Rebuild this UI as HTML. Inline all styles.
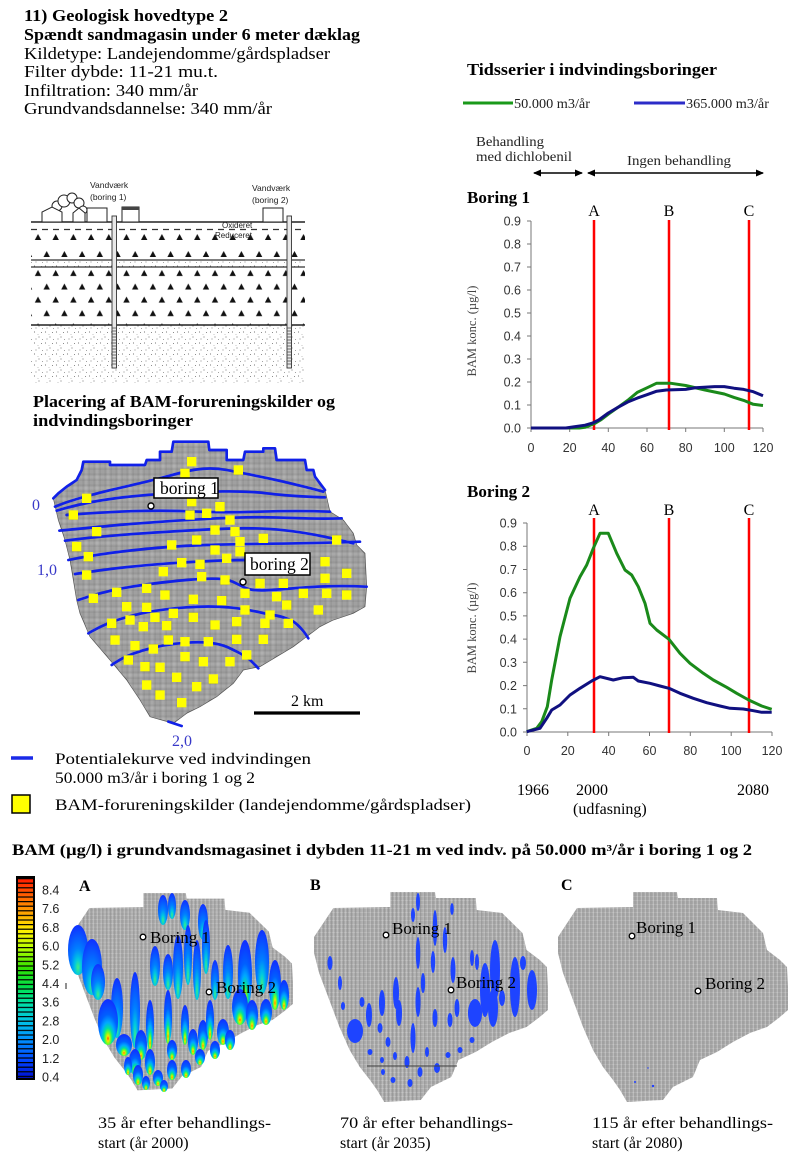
<!DOCTYPE html>
<html><head><meta charset="utf-8"><style>
html,body{margin:0;padding:0;background:#fff;}
svg{display:block;}
.s{font-family:"Liberation Serif",serif;}
.a{font-family:"Liberation Sans",sans-serif;}
</style></head><body>
<svg width="800" height="1163" viewBox="0 0 800 1163" xmlns="http://www.w3.org/2000/svg">
<defs>
<pattern id="gTop" patternUnits="userSpaceOnUse" width="3.3" height="3.3">
<rect width="3.3" height="3.3" fill="#c8c8c8"/>
<path d="M0 0H3.3M0 0V3.3" stroke="#1a1a1a" stroke-width="0.85"/>
</pattern>
<pattern id="gBot" patternUnits="userSpaceOnUse" width="4" height="4">
<rect width="4" height="4" fill="#a8a8a8"/>
<path d="M0 0H4M0 0V4" stroke="#e2e2e2" stroke-width="0.6"/>
<path d="M2 0V4" stroke="#8c8c8c" stroke-width="0.5"/>
</pattern>
<pattern id="tri1" patternUnits="userSpaceOnUse" x="29" y="229" width="17.7" height="34">
<path d="M5.8 11L12.2 11L9 5Z M-3.2 28L3.2 28L0 22Z M14.5 28L20.9 28L17.7 22Z" fill="#111"/>
</pattern>
<pattern id="tri2" patternUnits="userSpaceOnUse" x="29" y="267" width="17.7" height="26.6">
<path d="M5.8 9L12.2 9L9 3Z M-3.2 22.5L3.2 22.5L0 16.5Z M14.5 22.5L20.9 22.5L17.7 16.5Z" fill="#111"/>
</pattern>
<pattern id="sand" patternUnits="userSpaceOnUse" width="11" height="11">
<circle cx="1.5" cy="2" r="0.55" fill="#555"/><circle cx="6" cy="7" r="0.55" fill="#555"/>
<circle cx="8.5" cy="2.5" r="0.5" fill="#666"/><circle cx="3" cy="9" r="0.5" fill="#666"/>
<circle cx="9.5" cy="9.5" r="0.45" fill="#777"/><circle cx="5" cy="4.5" r="0.4" fill="#777"/>
</pattern>
<pattern id="cbl" patternUnits="userSpaceOnUse" x="0" y="878" width="10" height="4.6">
<rect width="10" height="1.2" fill="#000"/>
</pattern>
<linearGradient id="cbg" x1="0" y1="0" x2="0" y2="1">
<stop offset="0" stop-color="#ff1800"/><stop offset="0.08" stop-color="#ff5a00"/>
<stop offset="0.17" stop-color="#ffa000"/><stop offset="0.26" stop-color="#ffee00"/>
<stop offset="0.35" stop-color="#b8ff00"/><stop offset="0.45" stop-color="#30e000"/>
<stop offset="0.55" stop-color="#00e050"/><stop offset="0.63" stop-color="#00e0a8"/>
<stop offset="0.72" stop-color="#00c0e8"/><stop offset="0.82" stop-color="#0088ff"/>
<stop offset="0.92" stop-color="#0040ff"/><stop offset="1" stop-color="#0010d0"/>
</linearGradient>
<radialGradient id="pl" cx="0.5" cy="0.82" r="0.8" fx="0.5" fy="0.86">
<stop offset="0" stop-color="#ff3000"/><stop offset="0.07" stop-color="#ffe000"/>
<stop offset="0.16" stop-color="#70ff20"/><stop offset="0.27" stop-color="#00e0a0"/>
<stop offset="0.42" stop-color="#00a8ff"/><stop offset="0.62" stop-color="#0060ff"/>
<stop offset="1" stop-color="#1030ff"/>
</radialGradient>
<radialGradient id="pl2" cx="0.5" cy="0.8" r="0.8" fx="0.5" fy="0.85">
<stop offset="0" stop-color="#40f080"/><stop offset="0.2" stop-color="#00c8e0"/>
<stop offset="0.45" stop-color="#0080ff"/><stop offset="1" stop-color="#1030ff"/>
</radialGradient>
<path id="mshape" d="M1,45 L20,16 L76,15 L76,0 L120,0 L121,6 L160,6 L161,18 L186,21 L206,41 L210,58 L223,68 L230,75 L231,95 L231,118 L223,125 L210,135 L193,141 L176,150 L160,160 L143,168 L136,185 L116,195 L106,208 L70,210 L63,198 L56,188 L46,175 L36,158 L26,135 L16,108 L6,81 L1,61 Z"/>
<marker id="ah" markerWidth="8" markerHeight="8" refX="7" refY="4" orient="auto-start-reverse" markerUnits="userSpaceOnUse">
<path d="M0,0.5 L8,4 L0,7.5 Z" fill="#000"/>
</marker>
</defs>

<rect width="800" height="1163" fill="#fff"/>

<!-- Header text -->
<g class="s" fill="#000" font-size="16.5">
<text x="24" y="21" font-weight="bold" textLength="204" lengthAdjust="spacingAndGlyphs">11) Geologisk hovedtype 2</text>
<text x="24" y="40" font-weight="bold" textLength="336" lengthAdjust="spacingAndGlyphs">Spændt sandmagasin under 6 meter dæklag</text>
<text x="24" y="59" textLength="306" lengthAdjust="spacingAndGlyphs">Kildetype: Landejendomme/gårdspladser</text>
<text x="24" y="77" textLength="194" lengthAdjust="spacingAndGlyphs">Filter dybde: 11-21 mu.t.</text>
<text x="24" y="96" textLength="174" lengthAdjust="spacingAndGlyphs">Infiltration: 340 mm/år</text>
<text x="24" y="114" textLength="248" lengthAdjust="spacingAndGlyphs">Grundvandsdannelse: 340 mm/år</text>
</g>

<!-- Cross section -->
<g>
<rect x="31" y="229" width="274" height="31" fill="url(#tri1)"/>
<rect x="31" y="267" width="274" height="58" fill="url(#tri2)"/>
<rect x="31" y="260" width="274" height="7" fill="url(#sand)"/>
<rect x="31" y="325" width="274" height="58" fill="url(#sand)"/>
<path d="M31 222H305" stroke="#222" stroke-width="1.6"/>
<path d="M31 229.5H305" stroke="#333" stroke-width="1.2" stroke-dasharray="6,5"/>
<path d="M31 260H305M31 267H305" stroke="#333" stroke-width="1.3"/>
<path d="M31 325H305" stroke="#222" stroke-width="1.6"/>
<g fill="#fff" stroke="#222" stroke-width="1">
<circle cx="57" cy="206" r="5"/><circle cx="64" cy="201" r="6"/><circle cx="72" cy="198" r="5"/><circle cx="79" cy="203" r="5"/><circle cx="83" cy="210" r="4"/>
<path d="M42 222V212L52 207L62 212V222Z"/>
<path d="M73 222V213L79 208L85 213V222Z"/>
<rect x="87" y="208" width="20" height="14"/>
<rect x="122" y="207" width="17" height="15"/>
<rect x="263" y="208" width="20" height="14"/>
</g>
<rect x="122" y="207" width="17" height="3" fill="#444"/>
<rect x="112" y="216" width="4.5" height="152" fill="#e8e8e8" stroke="#333" stroke-width="0.9"/>
<rect x="287" y="216" width="4.5" height="152" fill="#e8e8e8" stroke="#333" stroke-width="0.9"/>
<path d="M112 328h4.5M112 331h4.5M112 334h4.5M112 337h4.5M112 340h4.5M112 343h4.5M112 346h4.5M112 349h4.5M112 352h4.5M112 355h4.5M112 358h4.5M112 361h4.5M112 364h4.5M287 328h4.5M287 331h4.5M287 334h4.5M287 337h4.5M287 340h4.5M287 343h4.5M287 346h4.5M287 349h4.5M287 352h4.5M287 355h4.5M287 358h4.5M287 361h4.5M287 364h4.5" stroke="#444" stroke-width="0.7"/>
<g class="a" font-size="8.5" fill="#222">
<text x="90" y="188">Vandværk</text><text x="90" y="200">(boring 1)</text>
<text x="252" y="191">Vandværk</text><text x="252" y="203">(boring 2)</text>
<text x="222" y="228" font-size="8">Oxideret</text><text x="215" y="238" font-size="8">Reduceret</text>
</g>
</g>

<!-- Placering title -->
<g class="s" font-weight="bold" font-size="16.5" fill="#000">
<text x="33" y="407" textLength="302" lengthAdjust="spacingAndGlyphs">Placering af BAM-forureningskilder og</text>
<text x="33" y="426" textLength="160" lengthAdjust="spacingAndGlyphs">indvindingsboringer</text>
</g>

<!-- Top map -->
<g transform="translate(0,380) scale(0.33333)">
<path d="M160,355 L175,340 L200,320 L230,300 L245,270 L250,245 L330,245 L330,255 L435,255 L440,240 L480,240 L480,215 L515,215 L520,185 L625,185 L628,210 L680,210 L680,240 L730,240 L735,215 L790,215 L790,205 L825,205 L830,240 L915,240 L920,270 L940,270 L945,290 L975,330 L990,395 L1030,420 L1060,460 L1070,495 L1095,520 L1100,620 L1095,680 L1060,700 L1000,720 L960,740 L920,770 L880,800 L830,830 L780,860 L730,870 L700,910 L650,950 L600,980 L560,1000 L520,1030 L450,1010 L420,960 L380,900 L330,840 L270,770 L240,700 L230,660 L220,600 L210,540 L195,480 L175,420 Z" fill="url(#gTop)" stroke="#555" stroke-width="2"/>
<g fill="none" stroke="#1020e8" stroke-width="8" stroke-linejoin="round" stroke-linecap="round">
<path d="M160,355 L175,340 L200,320 L230,300 L245,270 L250,245 L330,245 L330,255 L435,255 L440,240 L480,240 L480,215 L515,215 L520,185 L625,185 L628,210 L680,210 L680,240 L730,240 L735,215 L790,215 L790,205 L825,205 L830,240 L915,240 L920,270 L940,270 L945,290 L975,330"/>
<path d="M165,380 C250,345 380,320 460,300 S600,255 680,270 S880,310 970,335"/>
<path d="M170,392 C290,355 420,345 520,340 S720,330 800,340 S930,350 975,352"/>
<path d="M200,405 C330,395 450,388 600,395 S800,388 990,395"/>
<path d="M178,452 C300,440 450,425 650,415 S880,420 1025,415"/>
<path d="M195,482 C320,465 500,455 650,447 S900,450 1060,490"/>
<path d="M205,540 C330,515 480,500 620,495 S900,492 1080,485"/>
<path d="M225,582 C350,562 500,548 650,542 S800,545 880,550"/>
<path d="M235,660 C320,630 420,612 560,600 S690,605 740,625 S900,610 1100,620"/>
<path d="M265,760 C330,720 420,692 560,682 S760,695 820,705 S900,735 925,775"/>
<path d="M335,855 C380,822 460,795 560,788 S690,805 720,820 S760,850 775,865"/>
<path d="M505,1025 L545,1038"/>
</g>
<g fill="#ffff00">
<rect x="561" y="231" width="28" height="28"/><rect x="701" y="256" width="28" height="28"/><rect x="541" y="266" width="28" height="28"/>
<rect x="246" y="341" width="28" height="28"/><rect x="561" y="351" width="28" height="28"/><rect x="646" y="366" width="28" height="28"/>
<rect x="206" y="391" width="28" height="28"/><rect x="556" y="391" width="28" height="28"/><rect x="606" y="386" width="28" height="28"/>
<rect x="676" y="406" width="28" height="28"/><rect x="276" y="441" width="28" height="28"/><rect x="631" y="436" width="28" height="28"/>
<rect x="691" y="441" width="28" height="28"/><rect x="776" y="461" width="28" height="28"/><rect x="576" y="466" width="28" height="28"/>
<rect x="706" y="471" width="28" height="28"/><rect x="996" y="466" width="28" height="28"/><rect x="501" y="481" width="28" height="28"/>
<rect x="216" y="486" width="28" height="28"/><rect x="631" y="496" width="28" height="28"/><rect x="706" y="501" width="28" height="28"/>
<rect x="251" y="516" width="28" height="28"/><rect x="666" y="521" width="28" height="28"/><rect x="531" y="534" width="28" height="28"/>
<rect x="586" y="539" width="28" height="28"/><rect x="961" y="531" width="28" height="28"/><rect x="476" y="561" width="28" height="28"/>
<rect x="591" y="576" width="28" height="28"/><rect x="1026" y="566" width="28" height="28"/><rect x="246" y="571" width="28" height="28"/>
<rect x="961" y="581" width="28" height="28"/><rect x="661" y="586" width="28" height="28"/><rect x="766" y="596" width="28" height="28"/>
<rect x="836" y="596" width="28" height="28"/><rect x="426" y="611" width="28" height="28"/><rect x="336" y="623" width="28" height="28"/>
<rect x="896" y="626" width="28" height="28"/><rect x="966" y="626" width="28" height="28"/><rect x="1026" y="631" width="28" height="28"/>
<rect x="266" y="641" width="28" height="28"/><rect x="481" y="631" width="28" height="28"/><rect x="566" y="644" width="28" height="28"/>
<rect x="651" y="648" width="28" height="28"/><rect x="721" y="626" width="28" height="28"/><rect x="816" y="636" width="28" height="28"/>
<rect x="846" y="661" width="28" height="28"/><rect x="366" y="666" width="28" height="28"/><rect x="426" y="668" width="28" height="28"/>
<rect x="721" y="676" width="28" height="28"/><rect x="941" y="676" width="28" height="28"/><rect x="506" y="686" width="28" height="28"/>
<rect x="451" y="698" width="28" height="28"/><rect x="566" y="698" width="28" height="28"/><rect x="376" y="706" width="28" height="28"/>
<rect x="796" y="691" width="28" height="28"/><rect x="321" y="716" width="28" height="28"/><rect x="486" y="723" width="28" height="28"/>
<rect x="416" y="726" width="28" height="28"/><rect x="631" y="721" width="28" height="28"/><rect x="696" y="711" width="28" height="28"/>
<rect x="781" y="716" width="28" height="28"/><rect x="851" y="716" width="28" height="28"/><rect x="331" y="766" width="28" height="28"/>
<rect x="491" y="766" width="28" height="28"/><rect x="541" y="771" width="28" height="28"/><rect x="611" y="771" width="28" height="28"/>
<rect x="696" y="764" width="28" height="28"/><rect x="776" y="764" width="28" height="28"/><rect x="391" y="783" width="28" height="28"/>
<rect x="446" y="793" width="28" height="28"/><rect x="371" y="826" width="28" height="28"/><rect x="541" y="816" width="28" height="28"/>
<rect x="726" y="811" width="28" height="28"/><rect x="596" y="831" width="28" height="28"/><rect x="676" y="831" width="28" height="28"/>
<rect x="421" y="846" width="28" height="28"/><rect x="466" y="848" width="28" height="28"/><rect x="516" y="878" width="28" height="28"/>
<rect x="626" y="883" width="28" height="28"/><rect x="426" y="901" width="28" height="28"/><rect x="576" y="906" width="28" height="28"/>
<rect x="466" y="931" width="28" height="28"/><rect x="531" y="954" width="28" height="28"/>
</g>
</g>
<rect x="154" y="478" width="64" height="20" fill="#fff" stroke="#000" stroke-width="1.5"/>
<text x="160" y="494" class="s" font-size="17.5" fill="#000">boring 1</text>
<circle cx="151" cy="506" r="3" fill="#fff" stroke="#000" stroke-width="1.4"/>
<rect x="245" y="553" width="65" height="22" fill="#fff" stroke="#000" stroke-width="1.5"/>
<text x="250" y="570" class="s" font-size="17.5" fill="#000">boring 2</text>
<circle cx="243" cy="582" r="3" fill="#fff" stroke="#000" stroke-width="1.4"/>
<g class="s" font-size="16" fill="#3838c8">
<text x="32" y="510">0</text><text x="37" y="575">1,0</text><text x="172" y="746">2,0</text>
</g>
<path d="M254 713H360" stroke="#000" stroke-width="3.2"/>
<text x="291" y="706" class="s" font-size="16" fill="#000">2 km</text>

<!-- Legend -->
<path d="M11 758H33" stroke="#1a2ae8" stroke-width="3.5"/>
<g class="s" font-size="16" fill="#000">
<text x="55" y="764" textLength="256" lengthAdjust="spacingAndGlyphs">Potentialekurve ved indvindingen</text>
<text x="55" y="783" textLength="200" lengthAdjust="spacingAndGlyphs">50.000 m3/år i boring 1 og 2</text>
<text x="55" y="810" textLength="416" lengthAdjust="spacingAndGlyphs">BAM-forureningskilder (landejendomme/gårdspladser)</text>
</g>
<rect x="12" y="795" width="18" height="18" fill="#ffff00" stroke="#000" stroke-width="1.5"/>

<!-- Right top -->
<text x="467" y="75" class="s" font-weight="bold" font-size="16.5" textLength="250" lengthAdjust="spacingAndGlyphs">Tidsserier i indvindingsboringer</text>
<path d="M463 103H513" stroke="#1a991a" stroke-width="3"/>
<path d="M634 103H685" stroke="#2c2cc8" stroke-width="3"/>
<g class="s" font-size="13.5" fill="#222">
<text x="514" y="108" textLength="76" lengthAdjust="spacingAndGlyphs">50.000 m3/år</text>
<text x="686" y="108" textLength="83" lengthAdjust="spacingAndGlyphs">365.000 m3/år</text>
<text x="476" y="146" font-size="14" textLength="68" lengthAdjust="spacingAndGlyphs">Behandling</text>
<text x="476" y="161" font-size="14" textLength="96" lengthAdjust="spacingAndGlyphs">med dichlobenil</text>
<text x="627" y="165" font-size="14" textLength="104" lengthAdjust="spacingAndGlyphs">Ingen behandling</text>
</g>
<path d="M534 173H582" stroke="#000" stroke-width="1.6" marker-start="url(#ah)" marker-end="url(#ah)"/>
<path d="M588 173H763" stroke="#000" stroke-width="1.6" marker-start="url(#ah)" marker-end="url(#ah)"/>

<!-- Chart 1 -->
<text x="467" y="203" class="s" font-weight="bold" font-size="17" textLength="63" lengthAdjust="spacingAndGlyphs">Boring 1</text>
<g class="s" font-size="16" fill="#000" text-anchor="middle">
<text x="594" y="216">A</text><text x="669" y="216">B</text><text x="749" y="216">C</text>
</g>
<path d="M531 221V428H763M527 221H531M527 244H531M527 267H531M527 290H531M527 313H531M527 336H531M527 359H531M527 382H531M527 405H531M527 428H531M531 428V432M569.7 428V432M608.3 428V432M647 428V432M685.7 428V432M724.3 428V432M763 428V432" stroke="#777" stroke-width="1" fill="none"/>
<g class="a" font-size="12.5" fill="#333" text-anchor="end">
<text x="521" y="225.5">0.9</text><text x="521" y="248.5">0.8</text><text x="521" y="271.5">0.7</text><text x="521" y="294.5">0.6</text><text x="521" y="317.5">0.5</text><text x="521" y="340.5">0.4</text><text x="521" y="363.5">0.3</text><text x="521" y="386.5">0.2</text><text x="521" y="409.5">0.1</text><text x="521" y="432.5">0.0</text>
</g>
<g class="a" font-size="12.5" fill="#333" text-anchor="middle">
<text x="531" y="452">0</text><text x="569.7" y="452">20</text><text x="608.3" y="452">40</text><text x="647" y="452">60</text><text x="685.7" y="452">80</text><text x="724.3" y="452">100</text><text x="763" y="452">120</text>
</g>
<text transform="translate(476,331) rotate(-90)" class="s" font-size="12.5" fill="#444" text-anchor="middle">BAM konc. (µg/l)</text>
<path d="M594 220V430M669 220V430M749 220V430" stroke="#ff0000" stroke-width="2.5"/>
<polyline fill="none" stroke="#1a8a1a" stroke-width="3" stroke-linejoin="round" points="531,428 579.3,428 585.1,427.3 589,425.7 594.8,423.4 600.6,420 608.3,414.2 618,407.3 627.7,400.4 637.3,392.4 647,387.8 656.7,383.2 670.2,383.2 685.7,385.5 705,390 724.3,394 734,397.4 743.7,400.4 753.3,404.3 763,405.5"/>
<polyline fill="none" stroke="#101080" stroke-width="3" stroke-linejoin="round" points="531,428 565.8,428 573.5,426.9 585.1,425.2 592.9,422.9 598.7,420 608.3,413 618,407.3 627.7,402 637.3,398.1 647,394.7 656.7,391.2 666.3,390 685.7,389.4 695.3,387.8 714.7,386.6 724.3,386.6 734,388.2 743.7,389.4 753.3,391.7 763,395.8"/>

<!-- Chart 2 -->
<text x="467" y="497" class="s" font-weight="bold" font-size="17" textLength="63" lengthAdjust="spacingAndGlyphs">Boring 2</text>
<g class="s" font-size="16" fill="#000" text-anchor="middle">
<text x="594" y="515">A</text><text x="669" y="515">B</text><text x="749" y="515">C</text>
</g>
<path d="M527 523V732H772M523 523H527M523 546.2H527M523 569.5H527M523 592.7H527M523 615.9H527M523 639.1H527M523 662.3H527M523 685.6H527M523 708.8H527M523 732H527M527 732V736M567.8 732V736M608.7 732V736M649.5 732V736M690.3 732V736M731.2 732V736M772 732V736" stroke="#777" stroke-width="1" fill="none"/>
<g class="a" font-size="12.5" fill="#333" text-anchor="end">
<text x="517" y="527.5">0.9</text><text x="517" y="550.7">0.8</text><text x="517" y="574">0.7</text><text x="517" y="597.2">0.6</text><text x="517" y="620.4">0.5</text><text x="517" y="643.6">0.4</text><text x="517" y="666.8">0.3</text><text x="517" y="690.1">0.2</text><text x="517" y="713.3">0.1</text><text x="517" y="736.5">0.0</text>
</g>
<g class="a" font-size="12.5" fill="#333" text-anchor="middle">
<text x="527" y="755">0</text><text x="567.8" y="755">20</text><text x="608.7" y="755">40</text><text x="649.5" y="755">60</text><text x="690.3" y="755">80</text><text x="731.2" y="755">100</text><text x="772" y="755">120</text>
</g>
<text transform="translate(476,628) rotate(-90)" class="s" font-size="12.5" fill="#444" text-anchor="middle">BAM konc. (µg/l)</text>
<path d="M594 518V733M669 518V733M749 518V733" stroke="#ff0000" stroke-width="2.5"/>
<polyline fill="none" stroke="#1a8a1a" stroke-width="3" stroke-linejoin="round" points="526.7,731.7 536.7,728.3 541.7,721.7 547.3,706.7 551.7,680 560,636.7 570,598.3 580,576.7 586.7,565 593.3,548.3 600,533.3 608.3,533.3 616.7,553.3 625,570 631.7,575 638.3,586.7 645,603.3 650,623.3 656.7,630 669,639.3 680,653.3 690,663.3 703.3,673.3 713.3,680 726.7,687.3 736.7,693.3 748.7,700 761.7,706 771.7,709.3"/>
<polyline fill="none" stroke="#101080" stroke-width="3" stroke-linejoin="round" points="526.7,731.7 540,728.3 546.7,718.3 551.7,710 560,705 570,695 580,688.3 591.7,681 600,676.7 613.3,680 623.3,677.7 633.3,677.3 638.3,681 650,683.3 660,686 669,688.3 680,693.3 693.3,698.3 706.7,702.7 720,706 730,708.3 743.3,709 753.3,710.7 761.7,712.3 771.7,712.3"/>
<g class="s" font-size="16" fill="#000">
<text x="517" y="795">1966</text><text x="576" y="795">2000</text><text x="737" y="795">2080</text>
<text x="573" y="814">(udfasning)</text>
</g>

<!-- Bottom title -->
<text x="12" y="855" class="s" font-weight="bold" font-size="15.5" textLength="740" lengthAdjust="spacingAndGlyphs">BAM (µg/l) i grundvandsmagasinet i dybden 11-21 m ved indv. på 50.000 m³/år i boring 1 og 2</text>

<!-- Colorbar -->
<rect x="16" y="876" width="19" height="204" fill="#000"/>
<rect x="18" y="878" width="15" height="200" fill="url(#cbg)"/>
<rect x="18" y="878" width="15" height="200" fill="url(#cbl)"/>
<g class="a" font-size="12.5" fill="#222">
<text x="42" y="894.5">8.4</text><text x="42" y="913.2">7.6</text><text x="42" y="931.9">6.8</text><text x="42" y="950.6">6.0</text><text x="42" y="969.3">5.2</text><text x="42" y="988">4.4</text><text x="42" y="1006.7">3.6</text><text x="42" y="1025.4">2.8</text><text x="42" y="1044.1">2.0</text><text x="42" y="1062.8">1.2</text><text x="42" y="1081.5">0.4</text>
</g>
<path d="M66 983V989" stroke="#222" stroke-width="1"/>

<!-- Map A -->
<text x="79" y="891" class="s" font-weight="bold" font-size="16">A</text>
<use href="#mshape" transform="translate(70,893) scale(0.965,0.94)" fill="url(#gBot)"/>
<g fill="url(#pl2)">
<ellipse cx="78" cy="950" rx="10" ry="25"/><ellipse cx="92" cy="967" rx="10" ry="28"/><ellipse cx="98" cy="982" rx="7" ry="18"/>
<ellipse cx="163" cy="910" rx="5" ry="15"/><ellipse cx="172" cy="906" rx="4" ry="13"/><ellipse cx="185" cy="915" rx="5" ry="15"/><ellipse cx="203" cy="922" rx="5" ry="18"/>
<ellipse cx="155" cy="966" rx="5" ry="20"/><ellipse cx="168" cy="972" rx="5" ry="18"/><ellipse cx="178" cy="967" rx="5" ry="32"/><ellipse cx="188" cy="955" rx="4" ry="30"/>
<ellipse cx="197" cy="970" rx="4" ry="30"/><ellipse cx="206" cy="947" rx="4" ry="27"/><ellipse cx="215" cy="980" rx="4" ry="20"/>
<ellipse cx="228" cy="972" rx="5" ry="27"/><ellipse cx="262" cy="962" rx="7" ry="32"/><ellipse cx="117" cy="1008" rx="6" ry="30"/><ellipse cx="135" cy="1010" rx="5" ry="38"/>
</g>
<g fill="url(#pl)">
<ellipse cx="245" cy="975" rx="7" ry="35"/><ellipse cx="275" cy="985" rx="6" ry="25"/><ellipse cx="284" cy="995" rx="5" ry="15"/>
<ellipse cx="240" cy="1007" rx="8" ry="18"/><ellipse cx="252" cy="1015" rx="6" ry="15"/><ellipse cx="266" cy="1012" rx="6" ry="13"/>
<ellipse cx="108" cy="1022" rx="10" ry="23"/><ellipse cx="124" cy="1045" rx="8" ry="11"/><ellipse cx="141" cy="1045" rx="6" ry="15"/>
<ellipse cx="150" cy="1025" rx="4" ry="25"/><ellipse cx="168" cy="1017" rx="4" ry="27"/><ellipse cx="172" cy="1050" rx="5" ry="10"/>
<ellipse cx="185" cy="1025" rx="4" ry="20"/><ellipse cx="193" cy="1042" rx="5" ry="13"/><ellipse cx="203" cy="1035" rx="5" ry="15"/>
<ellipse cx="210" cy="1020" rx="4" ry="20"/><ellipse cx="223" cy="1032" rx="6" ry="13"/><ellipse cx="230" cy="1040" rx="5" ry="10"/>
<ellipse cx="135" cy="1062" rx="6" ry="13"/><ellipse cx="150" cy="1062" rx="5" ry="13"/><ellipse cx="138" cy="1075" rx="5" ry="10"/>
<ellipse cx="158" cy="1078" rx="5" ry="8"/><ellipse cx="172" cy="1070" rx="5" ry="10"/><ellipse cx="186" cy="1069" rx="5" ry="9"/>
<ellipse cx="164" cy="1086" rx="4" ry="6"/><ellipse cx="146" cy="1083" rx="4" ry="7"/><ellipse cx="128" cy="1066" rx="4" ry="9"/>
<ellipse cx="200" cy="1057" rx="5" ry="8"/><ellipse cx="215" cy="1050" rx="5" ry="9"/>
</g>
<g class="s" font-size="17" fill="#000">
<text x="150" y="943">Boring 1</text><text x="216" y="993">Boring 2</text>
</g>
<circle cx="143" cy="937" r="2.8" fill="#fff" stroke="#000" stroke-width="1.3"/>
<circle cx="209" cy="992" r="2.8" fill="#fff" stroke="#000" stroke-width="1.3"/>

<!-- Map B -->
<text x="310" y="890" class="s" font-weight="bold" font-size="16">B</text>
<use href="#mshape" transform="translate(313,892) scale(1.017,1.0)" fill="url(#gBot)"/>
<g fill="#1e44ff">
<ellipse cx="418" cy="902" rx="2" ry="9"/><ellipse cx="413" cy="915" rx="2" ry="7"/><ellipse cx="435" cy="928" rx="2.2" ry="18"/><ellipse cx="452" cy="909" rx="1.8" ry="6"/>
<ellipse cx="418" cy="953" rx="2.2" ry="16"/><ellipse cx="445" cy="940" rx="2.2" ry="13"/><ellipse cx="433" cy="962" rx="2.2" ry="11"/><ellipse cx="423" cy="983" rx="2.2" ry="10"/>
<ellipse cx="453" cy="970" rx="2.5" ry="13"/><ellipse cx="472" cy="958" rx="2" ry="8"/><ellipse cx="477" cy="962" rx="2" ry="8"/>
<ellipse cx="495" cy="970" rx="5" ry="30"/><ellipse cx="485" cy="990" rx="5" ry="27"/><ellipse cx="475" cy="1013" rx="7" ry="14"/><ellipse cx="493" cy="1008" rx="5" ry="19"/><ellipse cx="502" cy="998" rx="3" ry="8"/>
<ellipse cx="515" cy="987" rx="5" ry="30"/><ellipse cx="523" cy="963" rx="3" ry="7"/><ellipse cx="532" cy="990" rx="5" ry="20"/>
<ellipse cx="330" cy="963" rx="2.5" ry="7"/><ellipse cx="340" cy="983" rx="2" ry="7"/><ellipse cx="343" cy="1006" rx="2" ry="4"/>
<ellipse cx="355" cy="1031" rx="8" ry="12"/><ellipse cx="362" cy="1002" rx="2.5" ry="5"/><ellipse cx="369" cy="1015" rx="3" ry="12"/>
<ellipse cx="382" cy="1003" rx="3" ry="13"/><ellipse cx="380" cy="1028" rx="2.5" ry="5"/><ellipse cx="396" cy="993" rx="3" ry="16"/><ellipse cx="399" cy="1013" rx="3" ry="13"/>
<ellipse cx="388" cy="1042" rx="2.5" ry="5"/><ellipse cx="370" cy="1052" rx="2.5" ry="3"/><ellipse cx="382" cy="1060" rx="2" ry="3"/><ellipse cx="395" cy="1056" rx="2" ry="4"/>
<ellipse cx="407" cy="1062" rx="2.5" ry="6"/><ellipse cx="413" cy="1038" rx="2.5" ry="15"/><ellipse cx="418" cy="1002" rx="2.5" ry="15"/><ellipse cx="427" cy="1052" rx="2" ry="5"/>
<ellipse cx="435" cy="1018" rx="2.5" ry="9"/><ellipse cx="437" cy="1068" rx="3" ry="5"/><ellipse cx="420" cy="1072" rx="2.5" ry="5"/><ellipse cx="410" cy="1083" rx="2.5" ry="4"/>
<ellipse cx="393" cy="1080" rx="2.5" ry="3"/><ellipse cx="383" cy="1072" rx="2" ry="3"/><ellipse cx="450" cy="1020" rx="2.5" ry="7"/><ellipse cx="448" cy="1055" rx="2.5" ry="3"/>
<ellipse cx="460" cy="1050" rx="2.5" ry="3"/><ellipse cx="472" cy="1040" rx="2.5" ry="3"/><ellipse cx="457" cy="1008" rx="2.5" ry="9"/>
</g>
<path d="M367 1066H457" stroke="#444" stroke-width="1"/>
<g class="s" font-size="17" fill="#000">
<text x="392" y="934">Boring 1</text><text x="456" y="988">Boring 2</text>
</g>
<circle cx="386" cy="935" r="2.8" fill="#fff" stroke="#000" stroke-width="1.3"/>
<circle cx="451" cy="990" r="2.8" fill="#fff" stroke="#000" stroke-width="1.3"/>

<!-- Map C -->
<text x="561" y="890" class="s" font-weight="bold" font-size="16">C</text>
<use href="#mshape" transform="translate(557,892)" fill="url(#gBot)"/>
<circle cx="635" cy="1082" r="1" fill="#2040ff"/><circle cx="653" cy="1086" r="1.2" fill="#2040ff"/><circle cx="648" cy="1068" r="0.7" fill="#2040ff"/>
<g class="s" font-size="17" fill="#000">
<text x="636" y="933">Boring 1</text><text x="705" y="989">Boring 2</text>
</g>
<circle cx="632" cy="936" r="2.8" fill="#fff" stroke="#000" stroke-width="1.3"/>
<circle cx="698" cy="991" r="2.8" fill="#fff" stroke="#000" stroke-width="1.3"/>

<!-- Captions -->
<g class="s" font-size="16" fill="#000">
<text x="98" y="1128" textLength="173" lengthAdjust="spacingAndGlyphs">35 år efter behandlings-</text>
<text x="98" y="1148">start (år 2000)</text>
<text x="340" y="1128" textLength="173" lengthAdjust="spacingAndGlyphs">70 år efter behandlings-</text>
<text x="340" y="1148">start (år 2035)</text>
<text x="592" y="1128" textLength="181" lengthAdjust="spacingAndGlyphs">115 år efter behandlings-</text>
<text x="592" y="1148">start (år 2080)</text>
</g>
</svg>
</body></html>
